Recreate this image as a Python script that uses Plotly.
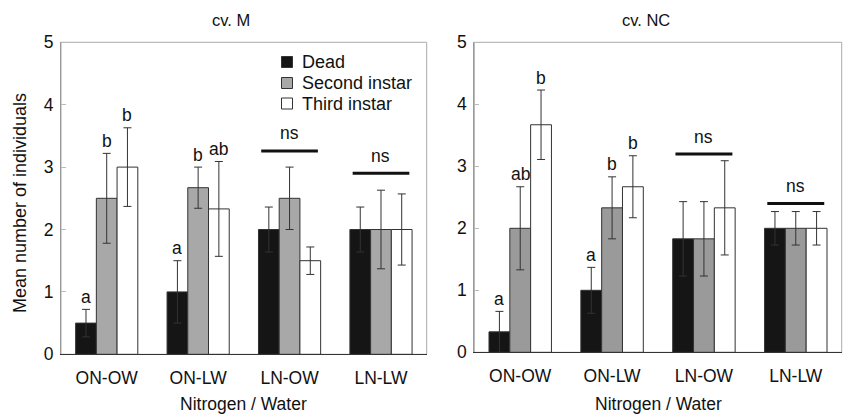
import plotly.graph_objects as go

# ---- data -------------------------------------------------------------
categories = ["ON-OW", "ON-LW", "LN-OW", "LN-LW"]
series_names = ["Dead", "Second instar", "Third instar"]

# cv. M
m_dead = [0.5, 1.0, 2.0, 2.0]
m_dead_err = [0.22, 0.5, 0.36, 0.36]
m_second = [2.5, 2.67, 2.5, 2.0]
m_second_err = [0.72, 0.33, 0.5, 0.63]
m_third = [3.0, 2.33, 1.5, 2.0]
m_third_err = [0.63, 0.76, 0.22, 0.57]
m_letters = [["a", "a", "", ""], ["b", "b", "", ""], ["b", "ab", "", ""]]
m_ns_groups = [2, 3]
m_ns_levels = [3.26, 2.9]

# cv. NC
nc_dead = [0.33, 1.0, 1.83, 2.0]
nc_dead_err = [0.33, 0.37, 0.6, 0.27]
nc_second = [2.0, 2.33, 1.83, 2.0]
nc_second_err = [0.67, 0.5, 0.6, 0.27]
nc_third = [3.67, 2.67, 2.33, 2.0]
nc_third_err = [0.56, 0.5, 0.76, 0.27]
nc_letters = [["a", "a", "", ""], ["ab", "b", "", ""], ["b", "b", "", ""]]
nc_ns_groups = [2, 3]
nc_ns_levels = [3.2, 2.4]

# ---- styling ----------------------------------------------------------
W, H = 844, 414
FONT = "Arial, 'Liberation Sans', sans-serif"
FS = 17.5
BARGAP = 0.32


def px(x):
    return x / W


def py(y):
    return 1 - y / H


panels = [
    dict(title="cv. M", title_x=231, xa="x", ya="y",
         xdom=[px(61), px(426.7)], ydom=[py(354.3), py(42.3)],
         values=[m_dead, m_second, m_third],
         errors=[m_dead_err, m_second_err, m_third_err],
         colors=["#151515", "#a8a8a8", "#ffffff"],
         letters=m_letters, ns_groups=m_ns_groups, ns_levels=m_ns_levels),
    dict(title="cv. NC", title_x=645.7, xa="x2", ya="y2",
         xdom=[px(474.3), px(841.7)], ydom=[py(352.3), py(42.3)],
         values=[nc_dead, nc_second, nc_third],
         errors=[nc_dead_err, nc_second_err, nc_third_err],
         colors=["#151515", "#9a9a9a", "#ffffff"],
         letters=nc_letters, ns_groups=nc_ns_groups, ns_levels=nc_ns_levels),
]

fig = go.Figure()
annotations = []
shapes = []

n_series = len(series_names)
bar_w = (1 - BARGAP) / n_series


def label(x, y, text, xref="paper", yref="paper", size=FS, xanchor="center", **kw):
    return dict(x=x, y=y, xref=xref, yref=yref, text=text, showarrow=False,
                xanchor=xanchor, yanchor="middle",
                font=dict(size=size, color="#111111", family=FONT), **kw)


for p in panels:
    for i, name in enumerate(series_names):
        fig.add_trace(go.Bar(
            x=categories, y=p["values"][i], name=name,
            xaxis=p["xa"], yaxis=p["ya"], showlegend=False,
            marker=dict(color=p["colors"][i], line=dict(color="#333333", width=1)),
            error_y=dict(type="data", array=p["errors"][i], visible=True,
                         color="#333333", thickness=1, width=4),
        ))
        # significance letters above each error bar
        for j, letter in enumerate(p["letters"][i]):
            if not letter:
                continue
            xpos = j + (i - (n_series - 1) / 2) * bar_w
            top = p["values"][i][j] + p["errors"][i][j]
            annotations.append(label(xpos, top + 0.2, letter, p["xa"], p["ya"]))
    # "ns" brackets
    for g, lvl in zip(p["ns_groups"], p["ns_levels"]):
        shapes.append(dict(type="line", xref=p["xa"], yref=p["ya"],
                           x0=g - 0.31, x1=g + 0.31, y0=lvl, y1=lvl,
                           line=dict(color="#111111", width=3)))
        annotations.append(label(g, lvl + 0.28, "ns", p["xa"], p["ya"]))
    # plot frame
    shapes.append(dict(type="rect", xref=p["xa"] + " domain", yref=p["ya"] + " domain",
                       x0=0, x1=1, y0=0, y1=1, layer="below",
                       line=dict(color="#aaaaaa", width=1)))
    # panel title and x-axis title
    annotations.append(label(px(p["title_x"]), py(20), p["title"], size=16.5))
    xmid = (p["xdom"][0] + p["xdom"][1]) / 2
    annotations.append(label(xmid, py(404), "Nitrogen / Water"))

# y-axis title
annotations.append(label(px(20), py(203), "Mean number of individuals",
                         size=18, textangle=-90))

# legend drawn inside the left panel
leg_rows = [62, 83, 103.5]
for name, color, yrow in zip(series_names, panels[0]["colors"], leg_rows):
    shapes.append(dict(type="rect", xref="paper", yref="paper",
                       x0=px(281.5), x1=px(292.5), y0=py(yrow + 5.5), y1=py(yrow - 5.5),
                       fillcolor=color, line=dict(color="#333333", width=1)))
    annotations.append(label(px(300), py(yrow), name, size=18, xanchor="left"))

axis_common_x = dict(type="category", range=[-0.5, 3.5], showline=True,
                     linecolor="#333333", linewidth=1, ticks="", showgrid=False,
                     automargin=False, ticklabelstandoff=8,
                     tickfont=dict(size=FS, color="#111111", family=FONT))
axis_common_y = dict(range=[0, 5], dtick=1, showgrid=False, zeroline=False,
                     showline=True, linecolor="#999999", linewidth=1,
                     ticks="inside", ticklen=5, tickcolor="#bbbbbb",
                     automargin=False, ticklabelstandoff=3,
                     tickfont=dict(size=FS, color="#111111", family=FONT))

fig.update_layout(
    width=W, height=H,
    margin=dict(l=0, r=0, t=0, b=0, pad=0, autoexpand=False),
    paper_bgcolor="white", plot_bgcolor="white",
    barmode="group", bargap=BARGAP, bargroupgap=0,
    xaxis=dict(domain=panels[0]["xdom"], anchor="y", **axis_common_x),
    yaxis=dict(domain=panels[0]["ydom"], anchor="x", **axis_common_y),
    xaxis2=dict(domain=panels[1]["xdom"], anchor="y2", **axis_common_x),
    yaxis2=dict(domain=panels[1]["ydom"], anchor="x2", **axis_common_y),
    annotations=annotations, shapes=shapes,
    font=dict(family=FONT, color="#111111"),
)

fig.write_html("out.html")
